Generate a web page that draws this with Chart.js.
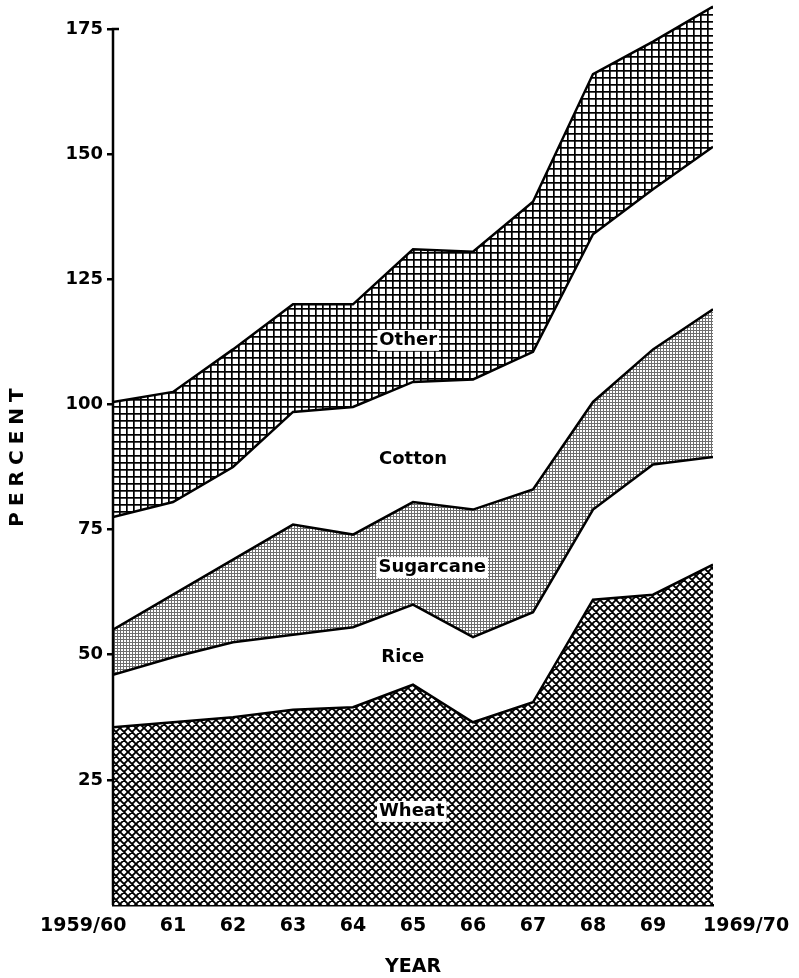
<!DOCTYPE html>
<html>
<head>
<meta charset="utf-8">
<script src="https://cdn.jsdelivr.net/npm/chart.js@4.4.1/dist/chart.umd.min.js"></script>
<style>
  html, body { margin: 0; padding: 0; background: #fff; }
  canvas { display: block; }
</style>
</head>
<body>
<canvas id="chart" width="799" height="978"></canvas>
<script>
// crop years on the x axis
const years = ['1959/60', '61', '62', '63', '64', '65', '66', '67', '68', '69', '1969/70'];
const yTicks = [25, 50, 75, 100, 125, 150, 175];

// percent per crop, stacked from the bottom
const wheat     = [35.5, 36.5, 37.5, 39, 39.5, 44, 36.5, 40.5, 61, 62, 68];
const rice      = [10.5, 13, 15, 15, 16, 16, 17, 18, 18, 26, 21.5];
const sugarcane = [9, 12.5, 16.5, 22, 18.5, 20.5, 25.5, 24.5, 21.5, 23, 29.5];
const cotton    = [22.5, 18.5, 18.5, 22.5, 25.5, 24, 26, 27.5, 33.5, 32, 32.5];
const other     = [23, 22, 23.5, 21.5, 20.5, 26.5, 25.5, 30, 32, 29.5, 28];

// names written inside the bands (x = year index, y = percent)
const bandNames = ['Other', 'Cotton', 'Sugarcane', 'Rice', 'Wheat'];
const bandNameX = [4.92, 5.0, 5.32, 4.83, 4.98];
const bandNameY = [112.9, 89.1, 67.5, 49.5, 18.8];

const ctx = document.getElementById('chart').getContext('2d');

// hatch fills
function tile(size, draw) {
  const c = document.createElement('canvas');
  c.width = c.height = size;
  const g = c.getContext('2d');
  g.fillStyle = '#fff';
  g.fillRect(0, 0, size, size);
  draw(g, size);
  return ctx.createPattern(c, 'repeat');
}
const diagHatch = tile(8, (g, s) => {
  g.strokeStyle = '#000';
  g.lineWidth = 1.9;
  g.beginPath();
  for (let o = -s; o <= s; o += s) {
    g.moveTo(o, 0); g.lineTo(o + s, s);
    g.moveTo(o + s, 0); g.lineTo(o, s);
  }
  g.stroke();
});
const gridHatch = tile(7, (g, s) => {
  g.fillStyle = '#000';
  g.fillRect(0, 0, s, 1.7);
  g.fillRect(0, 0, 1.7, s);
});
const dotHatch = tile(3, (g, s) => {
  g.fillStyle = '#6e6e6e';
  g.fillRect(0, 0, s, 1);
  g.fillRect(0, 0, 1, s);
});

const points = arr => arr.map((v, i) => ({ x: i, y: v }));

// y axis line stops at 175, with a short tick to the right at the top
const axisLine = {
  id: 'axisLine',
  afterDraw(chart) {
    const { ctx, chartArea, scales: { y } } = chart;
    const top = y.getPixelForValue(yTicks[yTicks.length - 1]);
    ctx.save();
    ctx.strokeStyle = '#000';
    ctx.lineWidth = 2.5;
    ctx.beginPath();
    ctx.moveTo(chartArea.left + 6, top);
    ctx.lineTo(chartArea.left, top);
    ctx.lineTo(chartArea.left, y.getPixelForValue(0));
    ctx.stroke();
    ctx.restore();
  }
};

// the PERCENT title is letter-spaced in the original
const spacedTitle = {
  id: 'spacedTitle',
  afterLayout(chart) {
    const s = chart.scales.y;
    if (s._spaced) return;
    const draw = s.drawTitle;
    s.drawTitle = function () {
      this.ctx.letterSpacing = '6px';
      draw.call(this);
      this.ctx.letterSpacing = '0px';
    };
    s._spaced = true;
  }
};

const bandText = {
  id: 'bandText',
  afterDatasetsDraw(chart) {
    const { ctx, scales: { x, y } } = chart;
    ctx.save();
    ctx.font = 'bold 18px "DejaVu Sans"';
    ctx.textAlign = 'center';
    ctx.textBaseline = 'middle';
    bandNames.forEach((name, i) => {
      const px = x.getPixelForValue(bandNameX[i]);
      const py = y.getPixelForValue(bandNameY[i]);
      const w = ctx.measureText(name).width;
      ctx.fillStyle = '#fff';
      ctx.fillRect(px - w / 2 - 2, py - 10, w + 4, 21);
      ctx.fillStyle = '#000';
      ctx.fillText(name, px, py);
    });
    ctx.restore();
  }
};

Chart.defaults.font.family = '"DejaVu Sans", sans-serif';
Chart.defaults.font.weight = 'bold';
Chart.defaults.color = '#000';

const line = { borderColor: '#000', borderWidth: 2.5, pointRadius: 0, tension: 0 };

new Chart(ctx, {
  type: 'line',
  data: {
    datasets: [
      { ...line, label: 'Wheat', data: points(wheat), fill: 'origin', backgroundColor: diagHatch },
      { ...line, label: 'Rice', data: points(rice), fill: false },
      { ...line, label: 'Sugarcane', data: points(sugarcane), fill: '-1', backgroundColor: dotHatch },
      { ...line, label: 'Cotton', data: points(cotton), fill: false },
      { ...line, label: 'Other', data: points(other), fill: '-1', backgroundColor: gridHatch }
    ]
  },
  options: {
    responsive: false,
    animation: false,
    layout: { padding: { top: 4, right: 86, bottom: 0, left: 0 } },
    plugins: { legend: { display: false }, tooltip: { enabled: false } },
    scales: {
      x: {
        type: 'linear',
        min: 0,
        max: years.length - 1,
        afterBuildTicks: s => { s.ticks = years.map((_, i) => ({ value: i })); },
        afterFit: s => { s.height = 73; s.paddingLeft = 0; s.paddingRight = 0; },
        grid: { display: false },
        border: { display: true, color: '#000', width: 2.5 },
        ticks: {
          padding: 2,
          maxRotation: 0,
          minRotation: 0,
          autoSkip: false,
          font: { size: 19 },
          callback: v => {
            const i = Math.round(v);
            if (i === 0) return years[i] + ' '.repeat(9);
            if (i === years.length - 1) return ' '.repeat(10) + years[i];
            return years[i];
          }
        },
        title: { display: true, text: 'YEAR', font: { size: 19 }, padding: { top: 0, bottom: 0 } }
      },
      y: {
        stacked: true,
        min: 0,
        max: 180,
        afterBuildTicks: s => { s.ticks = yTicks.map(v => ({ value: v })); },
        afterFit: s => { s.width = 113; s.paddingTop = 0; s.paddingBottom = 0; },
        grid: { drawOnChartArea: false, drawTicks: true, tickLength: 6, color: '#000', lineWidth: 2.5 },
        border: { display: false },
        ticks: { padding: 4, font: { size: 18 } },
        title: { display: true, text: 'PERCENT', font: { size: 20 }, padding: { top: 6, bottom: 0 } }
      }
    }
  },
  plugins: [axisLine, spacedTitle, bandText]
});
</script>
</body>
</html>
